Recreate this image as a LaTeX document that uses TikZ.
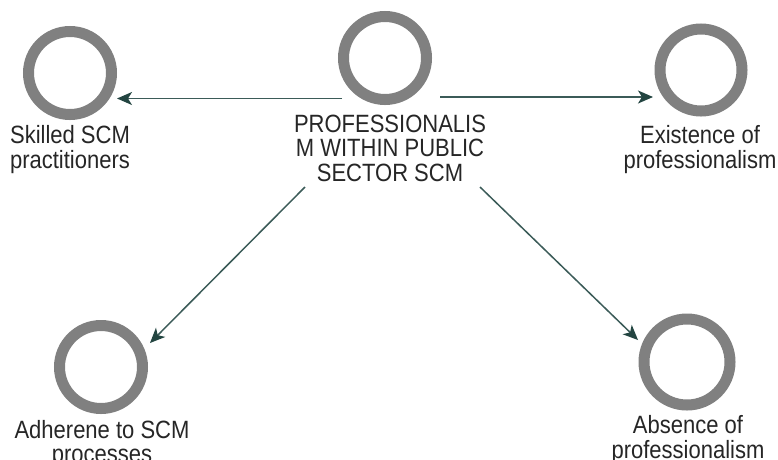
\documentclass[tikz,border=0pt]{standalone}
\usepackage{fontspec}
\setmainfont{Liberation Sans}[FakeStretch=0.88]
\usetikzlibrary{arrows.meta}
\definecolor{ringgray}{HTML}{808080}
\definecolor{linkteal}{HTML}{3B5B58}
\definecolor{tipteal}{HTML}{234541}
\definecolor{labelink}{HTML}{262626}
\newcommand\stackedlines[1]{\begin{tabular}[t]{@{}c@{}}#1\end{tabular}}
\begin{document}
\begin{tikzpicture}[x=1pt,y=-1pt,
  ring/.style={circle,draw=ringgray,line width=11pt,inner sep=0pt,minimum size=#1},
  caption/.style={anchor=base,inner sep=0pt,text=labelink,
    font=\fontsize{25}{24.5}\selectfont},
  link/.style={draw=linkteal,line width=1.5pt,
    -{Stealth[length=15pt,width=13pt,inset=4pt,color=tipteal]}}]
  \useasboundingbox[fill=white] (0,0) rectangle (778,459);

  % rings
  \node[ring=83pt] (hubring) at (385,58) {};
  \node[ring=83pt] (skilled) at (70,73) {};
  \node[ring=82pt] (exist) at (701,70) {};
  \node[ring=83pt] (adhere) at (101,367) {};
  \node[ring=86pt] (absent) at (687,362) {};

  % captions
  \node[caption] (hubtext) at (390,132)
    {\stackedlines{PROFESSIONALIS\\M WITHIN PUBLIC\\SECTOR SCM}};
  \node[caption] (skilledtext) at (70,143)
    {\stackedlines{Skilled SCM\\practitioners}};
  \node[caption] (existtext) at (700,143)
    {\stackedlines{Existence of\\professionalism}};
  \node[caption] (adheretext) at (102,438)
    {\stackedlines{Adherene to SCM\\processes}};
  \node[caption] (absenttext) at (688,433)
    {\stackedlines{Absence of\\professionalism}};

  % connector end points
  \coordinate (fromL) at (342,98.5);
  \coordinate (toL) at (117,98.5);
  \coordinate (fromR) at (440,97);
  \coordinate (toR) at (653,97);
  \coordinate (fromDL) at (305,187);
  \coordinate (toDL) at (150,343);
  \coordinate (fromDR) at (480,187);
  \coordinate (toDR) at (638,340);

  \draw[link] (fromL) -- (toL);
  \draw[link] (fromR) -- (toR);
  \draw[link] (fromDL) -- (toDL);
  \draw[link] (fromDR) -- (toDR);
\end{tikzpicture}
\end{document}
